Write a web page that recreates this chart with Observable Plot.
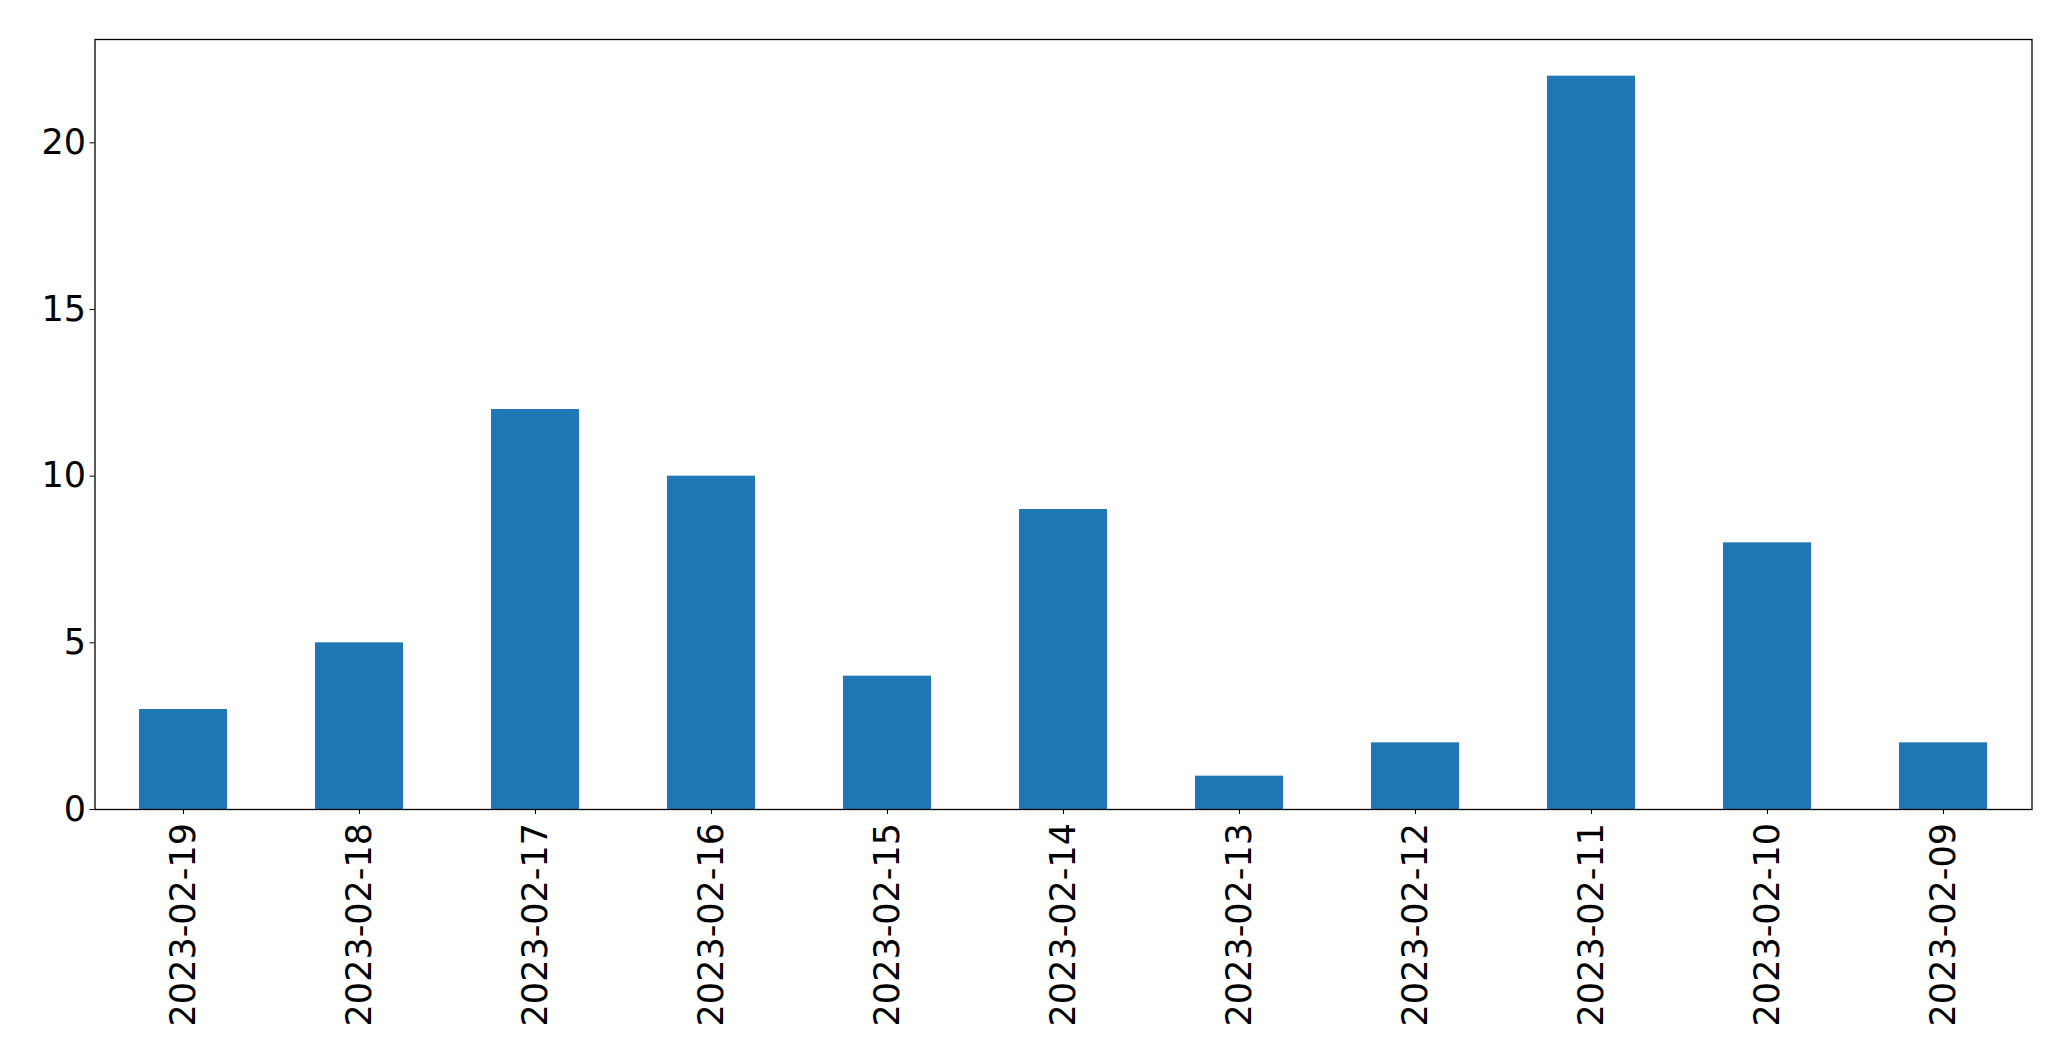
<!DOCTYPE html>
<html>
<head>
<meta charset="utf-8">
<script src="https://cdn.jsdelivr.net/npm/d3@7"></script>
<script src="https://cdn.jsdelivr.net/npm/@observablehq/plot@0.6"></script>
<style>
  html, body { margin: 0; padding: 0; background: #fff; }
  #chart svg { display: block; }
</style>
</head>
<body>
<div id="chart"></div>
<script>
const dates = ["2023-02-19","2023-02-18","2023-02-17","2023-02-16","2023-02-15","2023-02-14","2023-02-13","2023-02-12","2023-02-11","2023-02-10","2023-02-09"];
const counts = [3, 5, 12, 10, 4, 9, 1, 2, 22, 8, 2];
const yTicks = [0, 5, 10, 15, 20];

const data = dates.map((d, i) => ({date: d, count: counts[i]}));

const chart = Plot.plot({
  width: 2071,
  height: 1061,
  marginLeft: 94.5,
  marginRight: 39.5,
  marginTop: 39,
  marginBottom: 252,
  style: {fontFamily: "DejaVu Sans", fontSize: "35px", color: "#000", background: "#fff"},
  x: {type: "band", domain: dates, paddingInner: 0.5, paddingOuter: 0.25},
  y: {domain: [0, 23.1]},
  marks: [
    Plot.barY(data, {x: "date", y: "count", fill: "#1f77b4"}),
    Plot.frame({stroke: "#000", strokeWidth: 1.3}),
    Plot.axisY({ticks: yTicks, tickSize: 5, tickPadding: 4, label: null, fontSize: 35, tickFormat: d => String(d)}),
    Plot.axisX({tickSize: 5, tickPadding: 8.5, tickRotate: -90, label: null, fontSize: 35})
  ]
});
document.getElementById("chart").appendChild(chart);
</script>
</body>
</html>
